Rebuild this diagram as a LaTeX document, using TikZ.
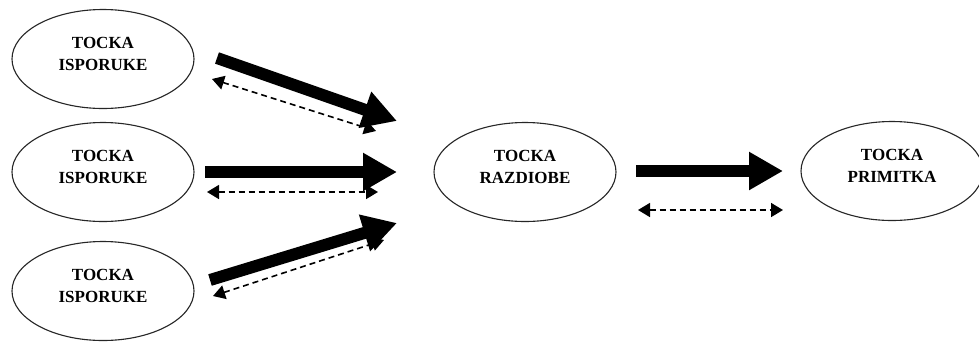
\documentclass[tikz,border=0pt]{standalone}
\usepackage{fontspec}
\setmainfont{Liberation Serif}
\usetikzlibrary{shapes.geometric,arrows.meta}
\begin{document}
\begin{tikzpicture}[x=1pt,y=-1pt,
  pointbox/.style={ellipse,draw=black!85,line width=1.1pt,minimum width=182pt,minimum height=99pt,inner sep=0pt},
  pointtext/.style={align=center,font=\fontsize{17}{22}\selectfont\bfseries,inner sep=0pt},
  flowarrow/.style={line width=12pt,-{Triangle[length=34pt,width=36pt]}},
  infoarrow/.style={line width=1.6pt,dash pattern=on 6pt off 4pt,{Triangle[length=12pt,width=14pt]}-{Triangle[length=12pt,width=14pt]}}]
\path[use as bounding box,fill=white] (0,0) rectangle (979,341);

\node[pointbox] (s1) at (103,59) {};
\node[pointbox] (s2) at (103,172) {};
\node[pointbox] (s3) at (103,291) {};
\node[pointbox] (r) at (525,172) {};
\node[pointbox] (p) at (892,171) {};

\node[pointtext] (ts1) at ([yshift=5pt]s1.center) {TOCKA\\ISPORUKE};
\node[pointtext] (ts2) at ([yshift=5pt]s2.center) {TOCKA\\ISPORUKE};
\node[pointtext] (ts3) at ([yshift=5pt]s3.center) {TOCKA\\ISPORUKE};
\node[pointtext] (tr) at ([yshift=5pt]r.center) {TOCKA\\RAZDIOBE};
\node[pointtext] (tp) at ([yshift=5pt]p.center) {TOCKA\\PRIMITKA};

% thick flow arrows
\coordinate (f1a) at (217,58);  \coordinate (f1b) at (397,121);
\coordinate (f2a) at (205,172); \coordinate (f2b) at (397,172);
\coordinate (f3a) at (210,280); \coordinate (f3b) at (397,223);
\coordinate (f4a) at (636,171); \coordinate (f4b) at (783,171);
% dashed information arrows
\coordinate (d1a) at (212,79);  \coordinate (d1b) at (376,131);
\coordinate (d2a) at (207,192); \coordinate (d2b) at (378,192);
\coordinate (d3a) at (213,296); \coordinate (d3b) at (384,240);
\coordinate (d4a) at (638,210); \coordinate (d4b) at (783,210);

\draw[infoarrow] (d1a) -- (d1b);
\draw[infoarrow] (d2a) -- (d2b);
\draw[infoarrow] (d3a) -- (d3b);
\draw[infoarrow] (d4a) -- (d4b);

\draw[flowarrow] (f1a) -- (f1b);
\draw[flowarrow] (f2a) -- (f2b);
\draw[flowarrow] (f3a) -- (f3b);
\draw[flowarrow] (f4a) -- (f4b);
\end{tikzpicture}
\end{document}
